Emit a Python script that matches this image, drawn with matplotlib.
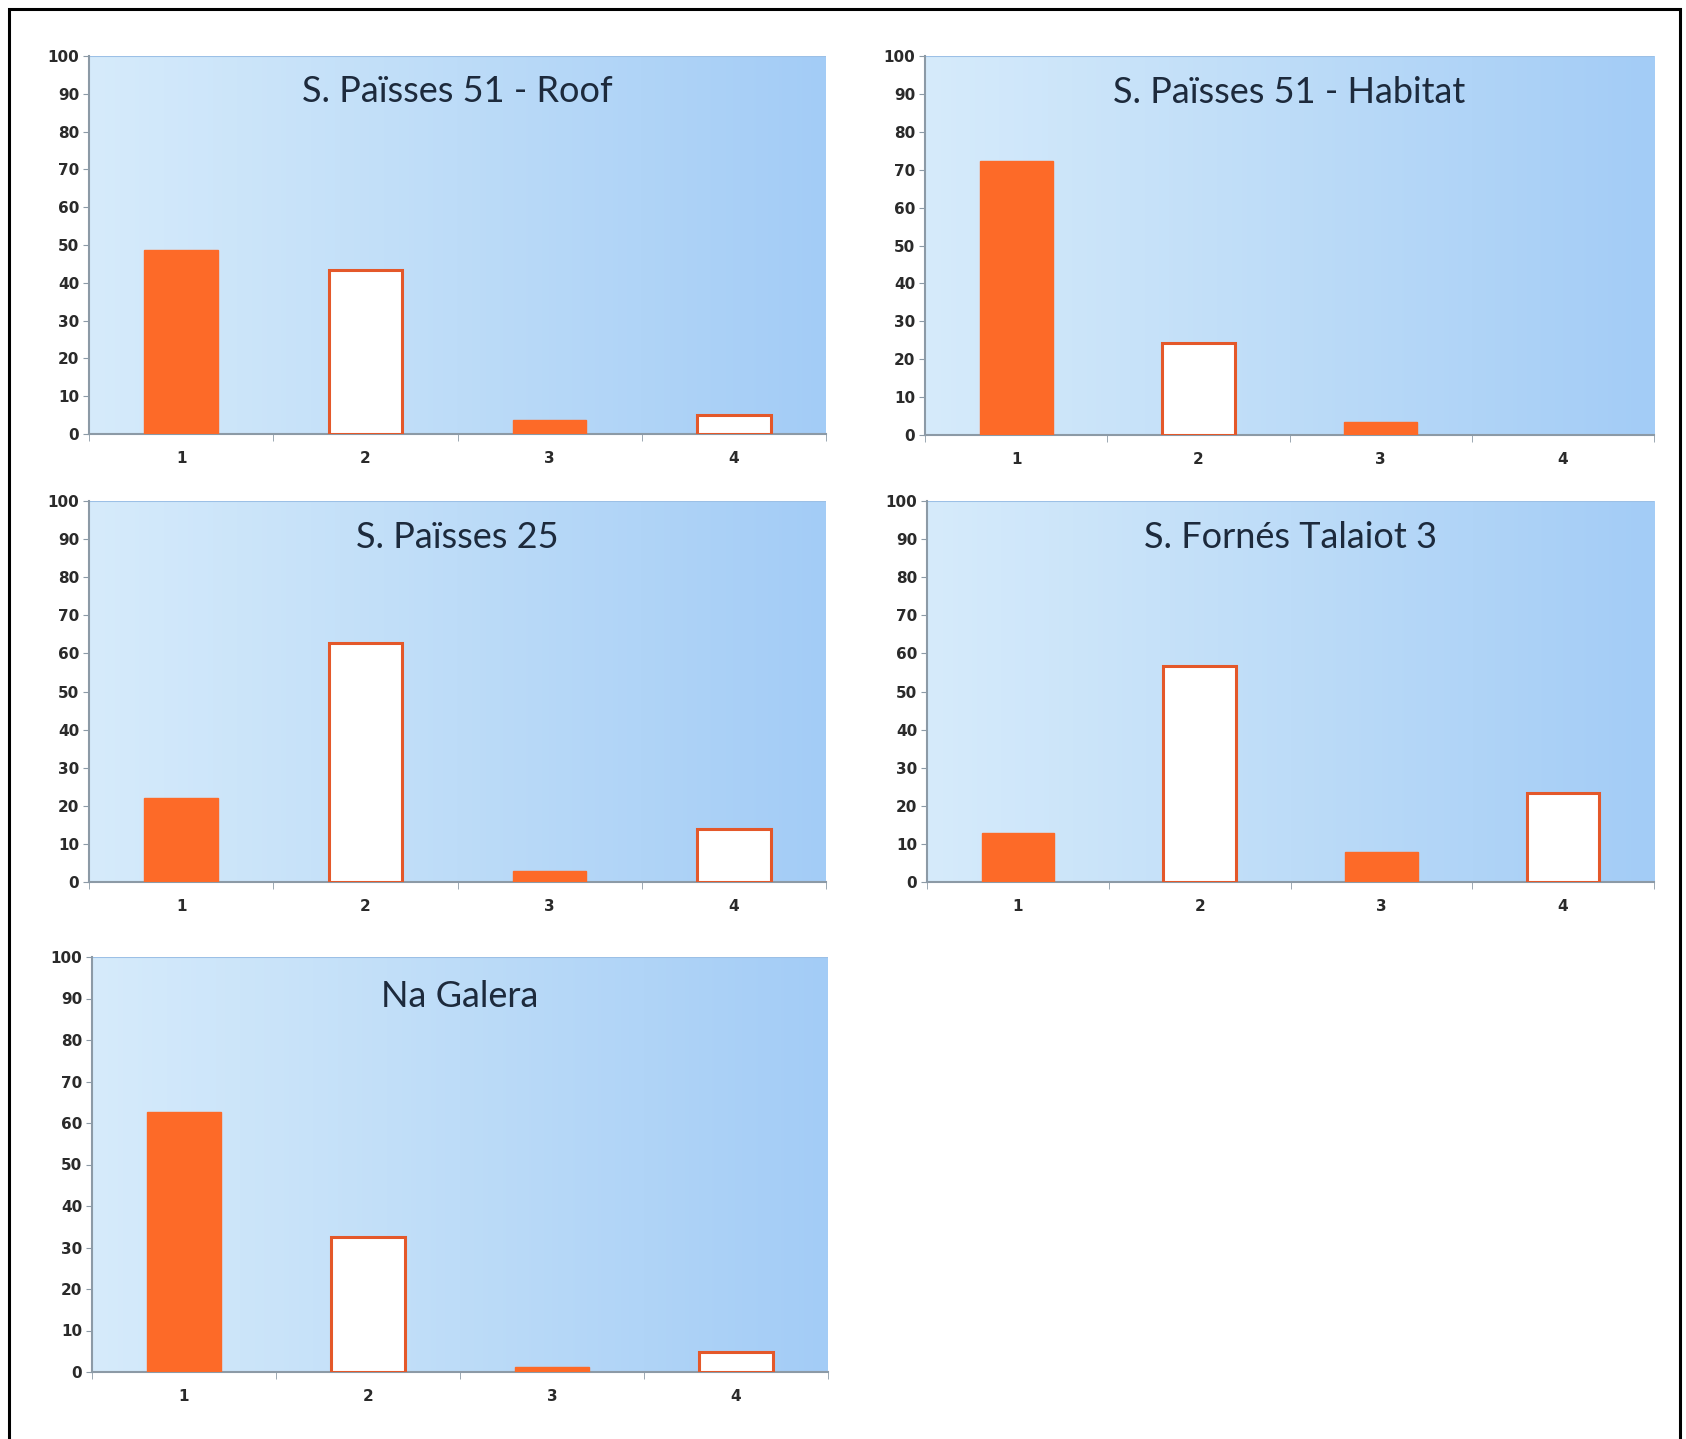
import numpy as np
import matplotlib
matplotlib.use("Agg")
import matplotlib.pyplot as plt
from matplotlib.colors import LinearSegmentedColormap
from matplotlib.patches import Rectangle

titles = ["S. Païsses 51 - Roof", "S. Païsses 51 - Habitat", "S. Païsses 25",
          "S. Fornés Talaiot 3", "Na Galera"]
categories = ["1", "2", "3", "4"]
roof = [48.8, 43.4, 3.6, 5.0]
habitat = [72.4, 24.2, 3.5, 0.0]
paisses25 = [22.0, 62.6, 2.9, 14.0]
fornes = [12.9, 56.7, 7.9, 23.4]
galera = [62.7, 32.6, 1.3, 4.8]
series = [roof, habitat, paisses25, fornes, galera]
filled = [True, False, True, False]
yticks = list(range(0, 101, 10))

plt.rcParams['font.family'] = ['Lato', 'DejaVu Sans']

W, H = 1686, 1439
fig = plt.figure(figsize=(W / 100, H / 100), dpi=100)

# axes rectangles in pixels: left, top, right, bottom
boxes = [(89, 56, 826, 434), (925, 56, 1654, 435),
         (89, 501, 826, 882), (927, 501, 1654, 882),
         (92, 957, 828, 1372)]

bg = LinearSegmentedColormap.from_list("bg", ["#d6ebfb", "#bddcf8", "#a3ccf6"])
grad = np.linspace(0, 1, 256).reshape(1, -1)
orange = "#fd6a28"
edge = "#e4582a"
tickfont = dict(family="DejaVu Sans", weight="bold", size=11)

for (l, t, r, b), title, vals in zip(boxes, titles, series):
    ax = fig.add_axes([l / W, 1 - b / H, (r - l) / W, (b - t) / H])
    ax.set_xlim(0.5, 4.5)
    ax.set_ylim(0, 100)
    ax.imshow(grad, cmap=bg, aspect="auto", extent=[0, 1, 0, 1],
              transform=ax.transAxes, zorder=0)
    ax.plot([0, 1], [1, 1], transform=ax.transAxes, color="#9cc0e6", lw=1.5, zorder=1)
    x = np.arange(1, 5)
    for xi, v, f in zip(x, vals, filled):
        if v <= 0:
            continue
        if f:
            ax.bar(xi, v, width=0.4, color=orange, edgecolor=orange, lw=1, zorder=3)
        else:
            ax.bar(xi, v, width=0.4, color="white", edgecolor=edge, lw=2.2, zorder=3)
    ax.set_yticks(yticks)
    ax.set_yticklabels([str(v) for v in yticks], fontdict=tickfont, color="#2a2a2a")
    ax.set_xticks(x)
    ax.set_xticklabels(categories, fontdict=tickfont, color="#2a2a2a")
    ax.set_xticks([0.5, 1.5, 2.5, 3.5, 4.5], minor=True)
    ax.tick_params(axis="x", which="major", length=0, pad=12)
    ax.tick_params(axis="x", which="minor", length=5, color="#8c9aa6", direction="out")
    ax.tick_params(axis="y", length=4, color="#8c9aa6", direction="out", pad=3)
    for s in ["top", "right"]:
        ax.spines[s].set_visible(False)
    for s in ["left", "bottom"]:
        ax.spines[s].set_color("#8c9aa6")
        ax.spines[s].set_linewidth(1.5)
    ax.text(0.5, 0.905, title, transform=ax.transAxes, ha="center", va="center",
            fontsize=26, color="#1d2a3c", zorder=5)

# outer frame
fig.add_artist(Rectangle((9 / W, -0.01), (1680 - 9) / W, 1.01 - 9 / H,
                         transform=fig.transFigure, fill=False, edgecolor="black",
                         lw=2.2))

fig.savefig("out.png", dpi=100)
